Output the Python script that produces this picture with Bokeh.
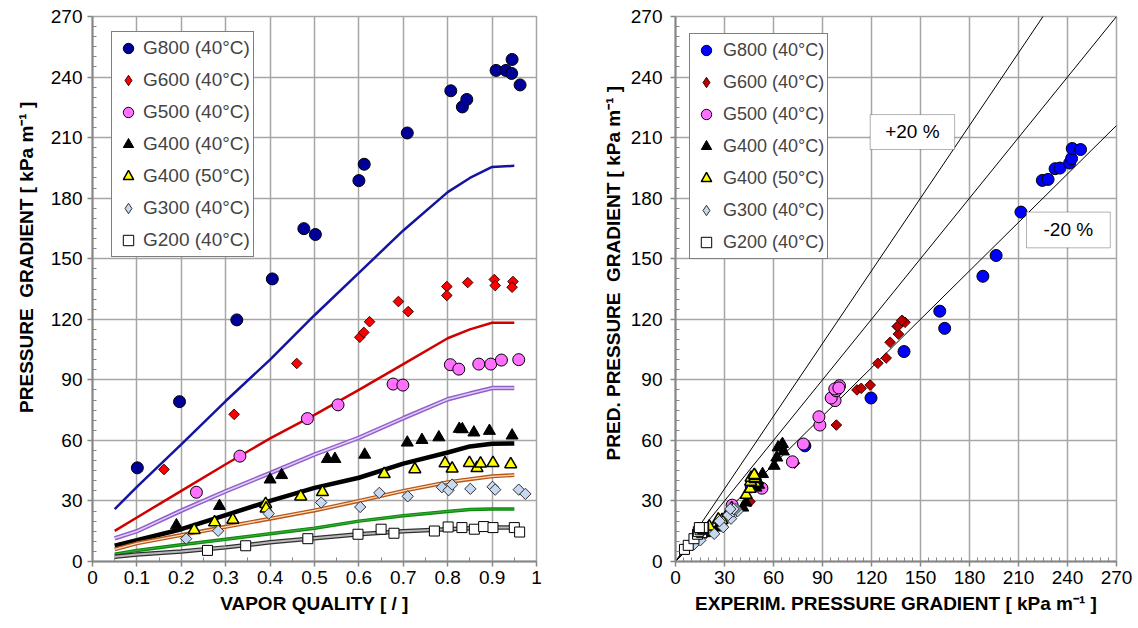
import numpy as np
from bokeh.plotting import figure
from bokeh.layouts import row
from bokeh.models import Range1d, FixedTicker, Legend, LegendItem, Label, BoxAnnotation
from bokeh.embed import file_html
from bokeh.resources import INLINE

FONT = "Liberation Sans"

# ---------------- data: left chart (pressure gradient vs vapor quality) ----------------
series_names = ["G800 (40°C)", "G600 (40°C)", "G500 (40°C)", "G400 (40°C)",
                "G400 (50°C)", "G300 (40°C)", "G200 (40°C)"]

g800_x = [0.101, 0.196, 0.325, 0.405, 0.476, 0.502, 0.600, 0.612, 0.709, 0.807, 0.833, 0.843, 0.909, 0.931, 0.944, 0.945, 0.963]
g800_y = [46.4, 79.2, 119.7, 140, 164.9, 162, 188.7, 196.8, 212.3, 233.2, 225.2, 228.9, 243.3, 243.3, 241.8, 248.7, 236.1]

g600_x = [0.161, 0.319, 0.46, 0.602, 0.611, 0.624, 0.689, 0.711, 0.798, 0.798, 0.845, 0.905, 0.907, 0.947, 0.945]
g600_y = [45.6, 72.9, 98.1, 111.1, 113.5, 118.8, 128.8, 123.8, 136.2, 131.8, 138.2, 139.7, 136.7, 138.7, 135.9]

g500_x = [0.234, 0.332, 0.484, 0.553, 0.677, 0.699, 0.806, 0.825, 0.87, 0.897, 0.921, 0.96]
g500_y = [34.3, 52.2, 70.8, 77.6, 87.9, 87.4, 97.5, 95.3, 97.8, 97.8, 99.8, 100]

g400_40_x = [0.189, 0.286, 0.4, 0.426, 0.529, 0.546, 0.613, 0.709, 0.742, 0.78, 0.826, 0.833, 0.859, 0.894, 0.945]
g400_40_y = [17.9, 27.5, 40.6, 42.8, 50.8, 50.8, 52.9, 58.9, 60.2, 61.5, 65.7, 65.5, 63.9, 64.7, 62.4]

g400_50_x = [0.229, 0.275, 0.316, 0.39, 0.391, 0.469, 0.518, 0.657, 0.726, 0.794, 0.81, 0.849, 0.866, 0.874, 0.902, 0.942]
g400_50_y = [15.6, 19.4, 20.7, 28.5, 26.2, 32.2, 34.4, 43.3, 45.7, 48.6, 46, 48.8, 46.3, 48.5, 48.8, 48.2]

g300_x = [0.211, 0.283, 0.397, 0.515, 0.603, 0.646, 0.71, 0.787, 0.802, 0.81, 0.851, 0.901, 0.907, 0.96, 0.975]
g300_y = [11.3, 15.2, 23.7, 29.2, 27.0, 34, 32.3, 36.8, 35.3, 38.1, 36, 37, 35.6, 35.6, 33.5]

g200_x = [0.259, 0.345, 0.485, 0.598, 0.65, 0.679, 0.77, 0.801, 0.832, 0.86, 0.881, 0.902, 0.95, 0.962]
g200_y = [5.5, 7.8, 11.3, 13.5, 16, 14, 15.1, 17.1, 16.8, 16, 17.3, 16.8, 16.8, 14.6]

# model (predicted) curves
model_x = [0.05, 0.1, 0.2, 0.3, 0.4, 0.5, 0.6, 0.7, 0.8, 0.85, 0.9, 0.95]
model_g800 = [26, 37, 58, 79.5, 100, 122, 143, 164, 183, 190, 195.5, 196]
model_g600 = [15.2, 21.8, 35, 48.2, 61, 72.6, 85, 97.8, 110.6, 115, 118.3, 118.3]
model_g500 = [11.5, 15, 25.2, 34.8, 43.8, 53, 61.3, 71, 80.4, 83.2, 85.9, 85.9]
model_g400_40 = [7.8, 10.5, 16, 23, 30, 36.5, 41.5, 48.5, 54, 57, 58.3, 58.5]
model_g400_50 = [6, 9, 13.1, 17.2, 21.2, 25.3, 30, 35, 39.3, 40.8, 42.2, 42.8]
model_g300 = [3.6, 5.5, 8.3, 11, 13.8, 16.5, 20, 22.7, 24.8, 25.8, 26, 26]
model_g200 = [2.3, 3.5, 5, 7, 9.5, 11.5, 13.5, 15, 16, 16.5, 16.8, 16.8]

# ---------------- data: right chart (predicted vs experimental) ----------------
r_g800_exp = [46.4, 79.2, 119.7, 139.9, 161.8, 164.8, 188.2, 196.3, 211.5, 224.6, 228.1, 232.4, 235.4, 241.3, 242.5, 242.9, 248]
r_g800_pred = [37, 57.3, 81, 104, 124, 115.5, 141.3, 151.6, 173.1, 188.8, 189.3, 194.6, 194.9, 197.4, 199.6, 204.6, 204.1]

r_g600_exp = [45.6, 72.9, 98.5, 111.1, 113.7, 119.2, 123.9, 129, 131.4, 135.8, 136.5, 138.9, 140.5, 136, 138.5]
r_g600_pred = [29.7, 48.7, 67.6, 85, 85.8, 87.4, 98.2, 100.8, 108.6, 116.4, 112.7, 119.4, 118.5, 116.5, 119.4]

r_g500_exp = [34.7, 52.9, 71.6, 78.3, 88.4, 87.8, 97.7, 95.3, 98.3, 100.4, 97.5, 100]
r_g500_pred = [27.9, 36.3, 49.4, 58.2, 67.6, 71.7, 79.7, 81, 84.6, 87.1, 85.5, 86]

r_g400_40_exp = [17.9, 26, 28, 41.2, 43.2, 50.9, 49.3, 50.3, 53.3, 60.4, 62, 62.8, 65.5, 66.1, 64.6]
r_g400_40_pred = [14, 16.8, 19.3, 26.7, 29.2, 38, 36.6, 40, 43.3, 47.4, 51.5, 56.5, 58.2, 54.5, 57]

r_g400_50_exp = [15.6, 19.4, 20.7, 28.5, 26.2, 32.2, 34.4, 43.3, 45.7, 48.6, 46, 48.8, 46.3, 48.5, 48.8, 48.2]
r_g400_50_pred = [13.5, 15.5, 17.3, 20.5, 20.8, 24, 26.3, 33, 36, 39, 39.5, 40.8, 41.5, 41.2, 42.3, 42.8]

r_g300_exp = [11.3, 15.2, 23.7, 29.2, 27.0, 34, 32.3, 36.8, 35.3, 38.1, 36, 37, 35.6, 35.6, 33.5]
r_g300_pred = [8.5, 10.5, 13.7, 17, 20, 21.2, 23, 24.5, 24.8, 25, 25.8, 26, 26, 26, 26]

r_g200_exp = [5.5, 7.8, 11.3, 13.5, 16, 14, 15.1, 17.1, 16.8, 16, 17.3, 16.8, 16.8, 14.6]
r_g200_pred = [6, 8, 11.3, 13.5, 14.3, 14.8, 15.7, 16, 16.3, 16.5, 16.7, 16.8, 16.8, 16.8]

# deviation lines (+20 %, 0, -20 %)
dev_ratios = [1.2, 1.0, 0.8]
dev_x = [0, 270]

# ticks
x_ticks_left = [0, 0.1, 0.2, 0.3, 0.4, 0.5, 0.6, 0.7, 0.8, 0.9, 1]
x_tick_labels_left = ["0", "0.1", "0.2", "0.3", "0.4", "0.5", "0.6", "0.7", "0.8", "0.9", "1"]
grad_ticks = [0, 30, 60, 90, 120, 150, 180, 210, 240, 270]
grad_tick_labels = ["0", "30", "60", "90", "120", "150", "180", "210", "240", "270"]

GRID = "#a6a6a6"
AXIS = "#868686"
NB = "\u00a0"


def style(p, xt, xlabels, xminor, yt, ylabels, yminor, label_standoff_y):
    p.xaxis.ticker = FixedTicker(ticks=xt, minor_ticks=xminor)
    p.yaxis.ticker = FixedTicker(ticks=yt, minor_ticks=yminor)
    p.xaxis.major_label_overrides = dict(zip(xt, xlabels))
    p.yaxis.major_label_overrides = dict(zip(yt, ylabels))
    for ax in p.axis:
        ax.axis_line_color = AXIS
        ax.axis_line_width = 2
        ax.major_tick_line_color = AXIS
        ax.major_tick_line_width = 1.5
        ax.major_tick_out = 5
        ax.major_tick_in = 0
        ax.minor_tick_line_color = AXIS
        ax.minor_tick_line_width = 1
        ax.minor_tick_in = 4
        ax.minor_tick_out = 0
        ax.major_label_text_font = FONT
        ax.major_label_text_font_size = "19px"
        ax.major_label_text_color = "black"
        ax.axis_label_text_font = FONT
        ax.axis_label_text_font_size = "19px"
        ax.axis_label_text_font_style = "bold"
        ax.axis_label_text_color = "black"
    p.xaxis.major_label_standoff = 4
    p.xaxis.axis_label_standoff = 6
    p.yaxis.major_label_standoff = label_standoff_y
    p.yaxis.axis_label_standoff = 11
    p.grid.grid_line_color = GRID
    p.grid.grid_line_width = 1.5
    p.outline_line_color = GRID
    p.outline_line_width = 1.5
    p.background_fill_color = "white"
    p.border_fill_color = "white"


minor_grad = [v for v in np.arange(0, 270.01, 5).round(2).tolist() if v % 30 != 0]
minor_q = [round(v, 2) for v in np.arange(0.05, 1.0, 0.1).tolist()]

ANG = np.pi / 4
NAN = [float("nan")]


def add_series(p, xs_list, ys_list, blue, red):
    """Draw the seven series; diamonds are rotated squares in the plot,
    with legend-only diamond glyphs (legend glyphs are never rotated)."""
    specs = [
        dict(marker="circle", size=12, fill_color=blue, line_color="black", line_width=1),
        dict(marker="square", angle=ANG, size=7.5, fill_color=red, line_color="#400000", line_width=1),
        dict(marker="circle", size=12, fill_color="#ff70ff", line_color="black", line_width=1),
        dict(marker="triangle", size=12, fill_color="black", line_color="black", line_width=1),
        dict(marker="triangle", size=12, fill_color="#ffff00", line_color="black", line_width=1.5),
        dict(marker="square", angle=ANG, size=8, fill_color="#c6d9f1", line_color="#303030", line_width=1),
        dict(marker="square", size=10, fill_color="white", line_color="black", line_width=1),
    ]
    items = []
    for name, xs, ys, spec in zip(series_names, xs_list, ys_list, specs):
        r = p.scatter(xs, ys, **spec)
        if spec["marker"] == "square" and "angle" in spec:
            leg_spec = dict(spec)
            leg_spec.pop("angle")
            leg_spec["marker"] = "diamond"
            lr = p.scatter(x=NAN, y=NAN, **leg_spec)
            items.append(LegendItem(label=name, renderers=[lr]))
        else:
            items.append(LegendItem(label=name, renderers=[r]))
    return items


# ================= LEFT =================
p1 = figure(width=560, height=628, x_range=Range1d(0, 1), y_range=Range1d(0, 270),
            output_backend="svg", toolbar_location=None,
            min_border_left=92, min_border_right=24, min_border_top=16, min_border_bottom=67)
p1.xaxis.axis_label = "VAPOR QUALITY [ / ]"
p1.yaxis.axis_label = NB * 12 + "PRESSURE" + NB + " GRADIENT [ kPa m\u207b\u00b9 ]"
style(p1, x_ticks_left, x_tick_labels_left, minor_q, grad_ticks, grad_tick_labels, minor_grad, 5)

# model curves
p1.line(model_x, model_g800, line_color="#1414a0", line_width=2.5)
p1.line(model_x, model_g600, line_color="#d00000", line_width=2.5)
p1.line(model_x, model_g500, line_color="#9060c8", line_width=4.5)
p1.line(model_x, model_g500, line_color="#e4ccff", line_width=1.5)
p1.line(model_x, model_g400_40, line_color="black", line_width=4.5)
p1.line(model_x, model_g400_50, line_color="#b85818", line_width=4)
p1.line(model_x, model_g400_50, line_color="#ffdcbc", line_width=1.3)
p1.line(model_x, model_g300, line_color="#0a8a0a", line_width=3.5)
p1.line(model_x, model_g300, line_color="#3aa83a", line_width=1.2)
p1.line(model_x, model_g200, line_color="#303030", line_width=4.5)
p1.line(model_x, model_g200, line_color="#b8b8b8", line_width=2)

items1 = add_series(p1,
                    [g800_x, g600_x, g500_x, g400_40_x, g400_50_x, g300_x, g200_x],
                    [g800_y, g600_y, g500_y, g400_40_y, g400_50_y, g300_y, g200_y],
                    "#000099", "#ff0000")

leg1 = Legend(items=items1, location=(19, 304), margin=0, padding=3, spacing=6,
              glyph_height=26, glyph_width=26, label_height=26, label_standoff=2,
              label_text_font=FONT, label_text_font_size="19px",
              border_line_color="black", border_line_width=1,
              background_fill_color="white", background_fill_alpha=1)
p1.add_layout(leg1)

# ================= RIGHT =================
p2 = figure(width=578, height=628, x_range=Range1d(0, 270), y_range=Range1d(0, 270),
            output_backend="svg", toolbar_location=None,
            min_border_left=115, min_border_right=22, min_border_top=16, min_border_bottom=67)
p2.xaxis.axis_label = "EXPERIM. PRESSURE GRADIENT [ kPa m\u207b\u00b9 ]"
p2.yaxis.axis_label = NB * 6 + "PRED. PRESSURE" + NB + " GRADIENT [ kPa m\u207b\u00b9 ]"
style(p2, grad_ticks, grad_tick_labels, minor_grad, grad_ticks, grad_tick_labels, minor_grad, 8)
p2.yaxis.axis_label_standoff = 4

for r in dev_ratios:
    p2.line(dev_x, [r * v for v in dev_x], line_color="black", line_width=1)

items2 = add_series(p2,
                    [r_g800_exp, r_g600_exp, r_g500_exp, r_g400_40_exp, r_g400_50_exp, r_g300_exp, r_g200_exp],
                    [r_g800_pred, r_g600_pred, r_g500_pred, r_g400_40_pred, r_g400_50_pred, r_g300_pred, r_g200_pred],
                    "#0000ff", "#c00000")

leg2 = Legend(items=items2, location=(14, 302), margin=0, padding=3, spacing=6,
              glyph_height=26, glyph_width=26, label_height=26, label_standoff=4,
              label_text_font=FONT, label_text_font_size="18px",
              border_line_color="black", border_line_width=1,
              background_fill_color="white", background_fill_alpha=1)
p2.add_layout(leg2)

# deviation boxes
p2.add_layout(BoxAnnotation(left=119.2, right=170.9, bottom=204.1, top=221.4,
                            fill_color="white", fill_alpha=1, line_color="black", line_width=1))
p2.add_layout(Label(x=145, y=212.8, text="+20 %", text_align="center", text_baseline="middle",
                    text_font=FONT, text_font_size="19px", text_color="black"))
p2.add_layout(BoxAnnotation(left=214.9, right=266.2, bottom=155.4, top=173.1,
                            fill_color="white", fill_alpha=1, line_color="black", line_width=1))
p2.add_layout(Label(x=240.5, y=164.3, text="-20 %", text_align="center", text_baseline="middle",
                    text_font=FONT, text_font_size="19px", text_color="black"))

layout = row(p1, p2, spacing=0)
open("out.html", "w").write(file_html(layout, INLINE))
